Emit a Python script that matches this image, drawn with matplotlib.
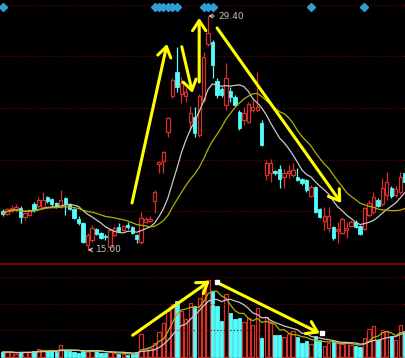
import matplotlib
matplotlib.use("Agg")
import matplotlib.pyplot as plt
import pandas as pd

# daily candles (price)
opens = [17.35, 17.16, 17.35, 17.41, 17.53, 16.98, 17.10, 17.78, 17.66, 17.60,
         18.21, 18.09, 17.84, 17.60, 18.15, 17.78, 17.47, 16.85, 16.61, 15.25,
         15.56, 16.24, 15.99, 15.80, 15.12, 15.87, 16.36, 16.17, 16.48, 16.36,
         15.87, 15.43, 16.67, 16.73, 17.97, 20.26, 20.44, 22.23, 24.46, 25.94,
         24.58, 24.46, 22.85, 23.16, 22.05, 24.21, 27.67, 27.79, 25.38, 24.89,
         23.90, 24.76, 24.39, 23.47, 22.97, 22.85, 23.59, 23.59, 22.79, 19.57,
         19.70, 19.82, 19.94, 19.45, 19.70, 19.57, 19.45, 19.33, 19.26, 18.28,
         18.83, 17.47, 16.73, 16.30, 16.36, 16.11, 15.99, 16.17, 16.42, 16.67,
         16.42, 16.24, 17.10, 17.29, 18.03, 17.78, 18.34, 18.77, 18.34, 18.52,
         19.70]
highs = [17.47, 17.53, 17.72, 17.78, 17.66, 17.29, 17.47, 17.90, 18.21, 18.52,
         18.28, 18.15, 17.90, 18.65, 18.21, 17.84, 17.53, 17.04, 16.67, 15.99,
         16.48, 16.30, 16.05, 15.93, 16.30, 16.42, 16.61, 16.48, 16.67, 16.42,
         15.93, 17.29, 16.98, 17.04, 18.65, 20.44, 21.05, 23.16, 25.57, 27.48,
         25.63, 24.95, 23.84, 23.78, 24.58, 27.17, 29.40, 27.92, 25.57, 25.01,
         26.49, 25.01, 24.52, 23.59, 23.78, 24.08, 24.21, 25.94, 22.97, 20.50,
         20.56, 19.88, 20.19, 19.94, 20.19, 20.32, 20.01, 19.39, 19.33, 18.96,
         18.89, 17.53, 17.60, 17.60, 16.42, 16.67, 16.98, 16.67, 16.79, 16.79,
         16.48, 17.60, 18.03, 18.52, 18.15, 19.39, 19.76, 18.89, 18.89, 19.76,
         19.88]
lows = [17.04, 17.10, 17.29, 17.29, 16.61, 16.79, 17.04, 17.29, 17.53, 17.53,
        17.84, 17.66, 17.53, 17.53, 17.10, 17.41, 16.85, 16.48, 15.37, 15.00,
        15.43, 15.87, 15.62, 15.56, 15.06, 15.80, 16.05, 16.11, 16.24, 15.93,
        15.37, 15.31, 16.61, 16.67, 17.22, 19.70, 19.70, 21.92, 24.33, 24.70,
        24.02, 24.08, 22.35, 21.92, 21.92, 24.08, 27.55, 25.57, 24.33, 24.39,
        23.59, 24.08, 23.84, 22.35, 22.66, 22.79, 23.47, 23.53, 21.37, 19.26,
        19.14, 19.57, 18.77, 18.77, 19.39, 19.45, 19.20, 18.96, 18.52, 18.21,
        17.22, 16.92, 16.17, 16.05, 15.56, 15.37, 15.93, 15.68, 16.36, 16.30,
        15.87, 16.17, 16.98, 17.16, 17.60, 17.66, 18.03, 18.15, 18.21, 18.40,
        18.96]
closes = [17.16, 17.47, 17.53, 17.60, 16.98, 17.22, 17.41, 17.41, 18.03, 18.03,
          17.97, 17.78, 17.60, 18.03, 17.78, 17.47, 16.92, 16.61, 15.43, 15.87,
          16.30, 15.93, 15.68, 15.74, 16.17, 16.30, 16.11, 16.42, 16.36, 15.99,
          15.62, 16.92, 16.85, 16.85, 18.52, 20.38, 20.99, 23.10, 25.44, 25.01,
          25.26, 24.70, 23.41, 22.17, 24.46, 26.87, 28.35, 26.37, 24.52, 24.52,
          25.57, 24.39, 23.90, 22.48, 23.41, 23.96, 23.78, 23.78, 21.43, 20.32,
          20.32, 19.70, 19.33, 19.70, 19.82, 19.88, 19.26, 19.08, 18.65, 18.83,
          17.29, 16.98, 17.04, 17.04, 15.68, 16.24, 16.85, 16.30, 16.67, 16.36,
          15.93, 17.53, 17.84, 18.21, 17.66, 18.77, 19.14, 18.28, 18.71, 19.45,
          19.14]
volumes = [5, 5, 5, 3, 5, 5, 5, 6, 8, 7,
           6, 6, 5, 12, 7, 6, 5, 4, 6, 6,
           7, 6, 4, 4, 5, 4, 3, 3, 2, 3,
           5, 23, 8, 9, 14, 25, 34, 46, 54, 57,
           47, 38, 55, 52, 60, 75, 78, 67, 52, 36,
           64, 44, 38, 39, 35, 39, 32, 50, 19, 40,
           34, 22, 22, 20, 23, 26, 20, 14, 16, 13,
           21, 17, 11, 14, 15, 14, 13, 14, 12, 11,
           10, 19, 28, 31, 17, 27, 26, 21, 17, 32,
           26]
signal_days = [0, 34, 35, 36, 37, 38, 39, 45, 46, 47, 69, 81]

# hand drawn trend arrows (day, value) -> (day, value)
price_arrows = [((28.95, 17.84), (36.8, 27.67)),
                ((40.1, 27.50), (42.5, 24.64)),
                ((44.0, 25.32), (44.0, 29.28)),
                ((48.0, 28.66), (75.8, 17.84))]
volume_arrows = [((29.1, 22), (46.4, 77)),
                 ((48.0, 75.3), (71.0, 24))]
volume_marks = [(48.0, 75.3), (71.6, 24)]

RED = "#D8302C"
CYAN = "#54FCFC"
GRID = "#7A0000"
WHITE_MA = "#C8C8C8"
OLIVE_MA = "#B0B000"

fig = plt.figure(figsize=(4.06, 3.58), dpi=100, facecolor="black")
ax = fig.add_axes([0, 95 / 358, 1, 263 / 358])
vax = fig.add_axes([0, 0, 1, 95 / 358])

days = list(range(len(closes)))
up = [c >= o for o, c in zip(opens, closes)]
bw = 0.74

for a in (ax, vax):
    a.set_facecolor("black")
    a.set_xlim(-0.6, 90.3)
    a.set_xticks([])
    a.set_yticks([])
    for s in a.spines.values():
        s.set_visible(False)

# price pane
for g in [17.35, 20.50, 23.71, 26.93, 30.08]:
    ax.axhline(g, color=GRID, lw=0.8, ls=(0, (1, 2)))
for d in days:
    o, h, l, c = opens[d], highs[d], lows[d], closes[d]
    col = RED if up[d] else CYAN
    lo_b, hi_b = min(o, c), max(o, c)
    ax.plot([d, d], [l, lo_b], color=col, lw=0.9, solid_capstyle="butt")
    ax.plot([d, d], [hi_b, h], color=col, lw=0.9, solid_capstyle="butt")
    body = max(hi_b - lo_b, 0.03)
    if up[d]:
        ax.add_patch(plt.Rectangle((d - bw / 2, lo_b), bw, body, facecolor="black",
                                   edgecolor=col, lw=0.9, zorder=3))
    else:
        ax.add_patch(plt.Rectangle((d - bw / 2, lo_b), bw, body, facecolor=col,
                                   edgecolor=col, lw=0.6, zorder=3))

cs = pd.Series(closes)
ax.plot(days, cs.rolling(10, min_periods=1).mean(), color=WHITE_MA, lw=0.9, zorder=4)
ax.plot(days, cs.rolling(20, min_periods=1).mean(), color=OLIVE_MA, lw=0.9, zorder=4)

ax.plot(signal_days, [29.96] * len(signal_days), ls="none", marker="D",
        markersize=3.6, color="#2E9ED6")

ax.annotate("29.40", xy=(46, 29.40), xytext=(48.3, 29.40), color="#C0C0C0",
            fontsize=6.5, va="center",
            arrowprops=dict(arrowstyle="->", color="#C0C0C0", lw=0.8,
                            shrinkA=1, shrinkB=0))
ax.annotate("15.00", xy=(19, 14.94), xytext=(20.9, 14.94), color="#C0C0C0",
            fontsize=6.5, va="center",
            arrowprops=dict(arrowstyle="->", color="#C0C0C0", lw=0.8,
                            shrinkA=1, shrinkB=0))

for start, end in price_arrows:
    ax.annotate("", xy=end, xytext=start,
                arrowprops=dict(arrowstyle="->,head_length=0.6,head_width=0.4",
                                color="#FFFF00", lw=2.2, mutation_scale=12,
                                shrinkA=0, shrinkB=0), zorder=6)
ax.set_ylim(14.13, 30.39)

# volume pane
vax.axhline(94, color=GRID, lw=1.5)
for g in [27, 54, 81]:
    vax.axhline(g, color=GRID, lw=0.8, ls=(0, (1, 2)))
for d in days:
    if up[d]:
        vax.add_patch(plt.Rectangle((d - bw / 2, 0), bw, volumes[d], facecolor="black",
                                    edgecolor=RED, lw=0.9))
    else:
        vax.add_patch(plt.Rectangle((d - bw / 2, 0), bw, volumes[d], facecolor=CYAN,
                                    edgecolor=CYAN, lw=0.6))
vs = pd.Series(volumes)
vax.plot(days, vs.rolling(5, min_periods=1).mean(), color=OLIVE_MA, lw=0.9, zorder=4)
vax.plot(days, vs.rolling(10, min_periods=1).mean(), color=WHITE_MA, lw=0.9, zorder=4)
for start, end in volume_arrows:
    vax.annotate("", xy=end, xytext=start,
                 arrowprops=dict(arrowstyle="->,head_length=0.6,head_width=0.4",
                                 color="#FFFF00", lw=2.2, mutation_scale=12,
                                 shrinkA=0, shrinkB=0), zorder=6)
vax.plot([m[0] for m in volume_marks], [m[1] for m in volume_marks], ls="none",
         marker="s", markersize=3.2, color="white", zorder=7)
vax.set_ylim(-1, 95)

fig.savefig("out.png", dpi=100, facecolor="black")
